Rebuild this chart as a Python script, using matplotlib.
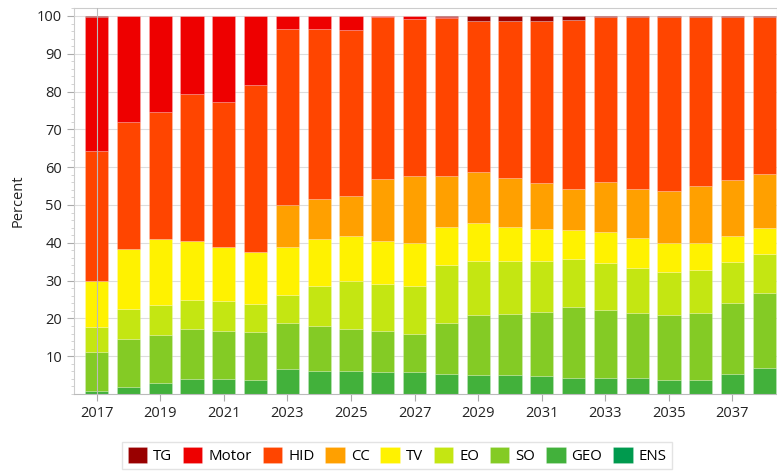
#!/usr/bin/env python3

import numpy as np
import matplotlib
matplotlib.use('Agg')
import matplotlib.pyplot as plt
from matplotlib.ticker import MultipleLocator

plt.rcParams['font.family'] = ['Open Sans', 'DejaVu Sans']

years = list(range(2017, 2039))

# shares per technology (percent)
ens = [0.0] * 22
geo = [0.8, 1.9, 2.8, 3.9, 3.9, 3.7, 6.5, 6.2, 6.0, 5.8, 5.7,
       5.3, 5.1, 4.9, 4.7, 4.3, 4.3, 4.2, 3.8, 3.7, 5.4, 6.9]
so = [10.2, 12.7, 12.9, 13.3, 12.9, 12.7, 12.2, 11.7, 11.2, 10.8, 10.2,
      13.6, 15.7, 16.2, 16.9, 18.7, 18.0, 17.3, 17.0, 17.8, 18.7, 19.8]
eo = [6.6, 8.0, 7.9, 7.7, 7.7, 7.4, 7.4, 10.7, 12.8, 12.4, 12.7,
      15.1, 14.5, 14.1, 13.6, 12.6, 12.4, 11.9, 11.5, 11.2, 10.8, 10.4]
tv = [12.4, 15.8, 17.5, 15.6, 14.4, 13.7, 12.8, 12.3, 11.9, 11.6, 11.4,
      10.3, 9.9, 9.1, 8.5, 7.9, 8.1, 7.9, 7.7, 7.3, 7.0, 6.7]
cc = [0.0, 0.0, 0.0, 0.0, 0.0, 0.0, 11.0, 10.7, 10.4, 16.4, 17.8,
      13.3, 13.5, 12.9, 12.0, 10.7, 13.4, 13.0, 13.6, 15.1, 14.8, 14.3]
hid = [34.2, 33.5, 33.5, 38.9, 38.3, 44.2, 46.7, 45.0, 44.1, 42.6, 41.3,
       41.8, 40.1, 41.5, 43.0, 44.8, 43.5, 45.5, 46.2, 44.5, 42.9, 41.5]
motor = [35.5, 28.1, 25.4, 20.6, 22.8, 18.3, 3.4, 3.4, 3.6, 0.4, 0.9,
         0.2, 0.0, 0.0, 0.0, 0.0, 0.0, 0.0, 0.0, 0.0, 0.0, 0.0]
tg = [0.3, 0.0, 0.0, 0.0, 0.0, 0.0, 0.0, 0.0, 0.0, 0.0, 0.0,
      0.4, 1.2, 1.3, 1.3, 1.0, 0.3, 0.2, 0.2, 0.4, 0.4, 0.4]

labels = ['TG', 'Motor', 'HID', 'CC', 'TV', 'EO', 'SO', 'GEO', 'ENS']
colors = ['#990000', '#EE0000', '#FF4500', '#FFA000', '#FFF200',
          '#C4E612', '#84CB25', '#42B13B', '#009A4E']
series = [tg, motor, hid, cc, tv, eo, so, geo, ens]

fig = plt.figure(figsize=(7.77, 4.73), dpi=100)
ax = fig.add_axes([0.095, 0.167, 0.905, 0.816])

# stack from the bottom (ENS) to the top (TG)
bottom = np.zeros(len(years))
handles = {}
for lab, col, vals in reversed(list(zip(labels, colors, series))):
    b = ax.bar(years, vals, width=0.73, bottom=bottom, color=col,
               edgecolor=(1, 1, 1, 0.25), linewidth=0.5, zorder=2)
    handles[lab] = b
    bottom += np.array(vals)

ax.axvline(2017, color='#bbbbbb', lw=0.8, zorder=3)

ax.set_ylim(0, 102.1)
ax.set_xlim(2016.28, 2038.4)
ax.yaxis.set_major_locator(MultipleLocator(10))
ax.yaxis.set_minor_locator(MultipleLocator(2))
ax.set_yticks(range(10, 101, 10))
ax.set_xticks(range(2017, 2038, 2))
ax.grid(axis='y', color='#dddddd', lw=0.8, zorder=0)
ax.tick_params(axis='both', colors='#aaaaaa', labelcolor='#222222',
               labelsize=10.5, length=5)
ax.tick_params(axis='y', which='minor', colors='#cccccc', length=2)
for s in ax.spines.values():
    s.set_color('#cccccc')
ax.spines['bottom'].set_color('#bbbbbb')
ax.set_ylabel('Percent', fontsize=10.5, color='#222222', labelpad=8)

fig.legend([handles[l] for l in labels], labels, loc='lower center',
           bbox_to_anchor=(0.511, -0.008), ncol=9, fontsize=10.8,
           frameon=True, fancybox=False, edgecolor='#dddddd',
           handlelength=1.3, handleheight=1.3, handletextpad=0.4,
           columnspacing=0.72, borderpad=0.35)

plt.savefig('out.png', dpi=100)
